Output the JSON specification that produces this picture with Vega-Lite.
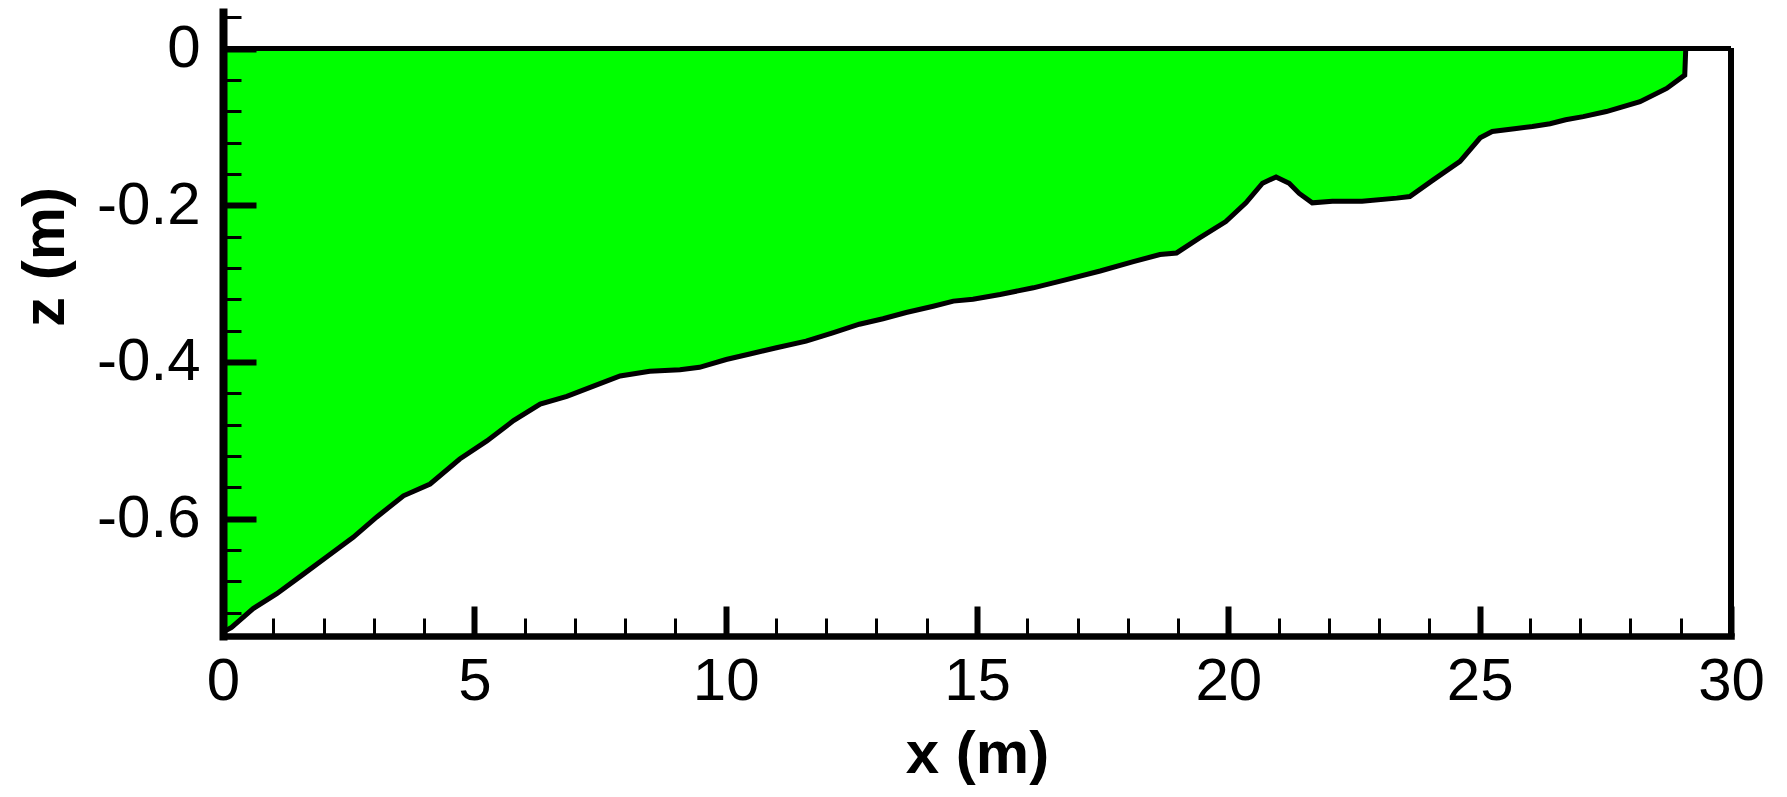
{
  "$schema": "https://vega.github.io/schema/vega-lite/v6.json",
  "width": 1508,
  "height": 624,
  "autosize": {"type": "none"},
  "padding": {"left": 223, "top": 12, "right": 56, "bottom": 161},
  "background": "white",
  "config": {"view": {"stroke": null}, "font": "Liberation Sans"},
  "datasets": {
    "bed": [
      {"x": 0, "z": -0.745},
      {"x": 0.17, "z": -0.739},
      {"x": 0.6, "z": -0.715},
      {"x": 1.07, "z": -0.696},
      {"x": 1.6, "z": -0.671},
      {"x": 2.06, "z": -0.649},
      {"x": 2.59, "z": -0.624},
      {"x": 3.06, "z": -0.598},
      {"x": 3.59, "z": -0.571},
      {"x": 4.12, "z": -0.556},
      {"x": 4.71, "z": -0.524},
      {"x": 5.25, "z": -0.501},
      {"x": 5.78, "z": -0.475},
      {"x": 6.31, "z": -0.454},
      {"x": 6.84, "z": -0.444},
      {"x": 7.37, "z": -0.431},
      {"x": 7.9, "z": -0.418},
      {"x": 8.49, "z": -0.412},
      {"x": 9.09, "z": -0.41},
      {"x": 9.48, "z": -0.407},
      {"x": 10.01, "z": -0.397},
      {"x": 10.48, "z": -0.39},
      {"x": 11.01, "z": -0.382},
      {"x": 11.6, "z": -0.3735},
      {"x": 12.13, "z": -0.363},
      {"x": 12.66, "z": -0.352},
      {"x": 13.13, "z": -0.345},
      {"x": 13.59, "z": -0.337},
      {"x": 14.13, "z": -0.329},
      {"x": 14.53, "z": -0.3225},
      {"x": 14.92, "z": -0.32},
      {"x": 15.46, "z": -0.314},
      {"x": 16.12, "z": -0.3055},
      {"x": 16.78, "z": -0.295},
      {"x": 17.45, "z": -0.284},
      {"x": 18.11, "z": -0.272},
      {"x": 18.64, "z": -0.263},
      {"x": 18.97, "z": -0.261},
      {"x": 19.42, "z": -0.242},
      {"x": 19.95, "z": -0.221},
      {"x": 20.35, "z": -0.197},
      {"x": 20.68, "z": -0.172},
      {"x": 20.95, "z": -0.164},
      {"x": 21.21, "z": -0.172},
      {"x": 21.41, "z": -0.185},
      {"x": 21.67, "z": -0.197},
      {"x": 22.07, "z": -0.195},
      {"x": 22.66, "z": -0.195},
      {"x": 23.35, "z": -0.191},
      {"x": 23.61, "z": -0.189},
      {"x": 24.07, "z": -0.168},
      {"x": 24.61, "z": -0.144},
      {"x": 25.01, "z": -0.114},
      {"x": 25.25, "z": -0.106},
      {"x": 25.73, "z": -0.102},
      {"x": 26.05, "z": -0.0996},
      {"x": 26.4, "z": -0.096},
      {"x": 26.71, "z": -0.091},
      {"x": 27.06, "z": -0.087},
      {"x": 27.52, "z": -0.0805},
      {"x": 28.19, "z": -0.068},
      {"x": 28.72, "z": -0.051},
      {"x": 29.08, "z": -0.034},
      {"x": 29.1, "z": 0}
    ]
  },
  "data": {"name": "bed"},
  "resolve": {"axis": {"x": "independent", "y": "independent"}},
  "layer": [
    {
      "mark": {"type": "area", "color": "#00ff00", "opacity": 1},
      "encoding": {
        "x": {
          "field": "x",
          "type": "quantitative",
          "scale": {"domain": [0, 30], "nice": false, "zero": false},
          "axis": {
            "orient": "bottom",
            "zindex": 2,
            "values": [0, 5, 10, 15, 20, 25, 30],
            "labelExpr": "'' + datum.value",
            "tickSize": -30,
            "tickWidth": 6,
            "tickColor": "black",
            "domainColor": "black",
            "domainWidth": 6.5,
            "domainCap": "square",
            "grid": false,
            "labelFont": "Liberation Sans",
            "labelFontSize": 60,
            "labelColor": "black",
            "labelBaseline": "alphabetic",
            "labelPadding": 93,
            "labelFlush": false,
            "labelOverlap": false,
            "labelBound": false,
            "title": "x (m)",
            "titleFont": "Liberation Sans",
            "titleFontSize": 60,
            "titleFontWeight": "bold",
            "titleColor": "black",
            "titleX": 754,
            "titleY": 136,
            "titleAlign": "center",
            "titleBaseline": "alphabetic"
          }
        },
        "y": {
          "field": "z",
          "type": "quantitative",
          "scale": {"domain": [-0.75, 0.0466], "nice": false, "zero": false},
          "axis": {
            "orient": "left",
            "zindex": 2,
            "values": [0, -0.2, -0.4, -0.6],
            "labelExpr": "'' + datum.value",
            "tickSize": -33,
            "tickWidth": 6,
            "tickColor": "black",
            "domainColor": "black",
            "domainWidth": 8,
            "domainCap": "square",
            "grid": false,
            "labelFont": "Liberation Sans",
            "labelFontSize": 60,
            "labelColor": "black",
            "labelAlign": "right",
            "labelBaseline": "middle",
            "labelPadding": 56,
            "labelFlush": false,
            "labelOverlap": false,
            "labelBound": false,
            "title": "z (m)",
            "titleFont": "Liberation Sans",
            "titleFontSize": 60,
            "titleFontWeight": "bold",
            "titleColor": "black",
            "titleAngle": 270,
            "titleX": -160,
            "titleY": 244.5,
            "titleAlign": "center",
            "titleBaseline": "alphabetic"
          }
        },
        "y2": {"datum": 0}
      }
    },
    {
      "mark": {"type": "line", "color": "black", "strokeWidth": 5},
      "encoding": {
        "x": {
          "field": "x",
          "type": "quantitative",
          "axis": {
            "orient": "bottom",
            "zindex": 2,
            "values": [1,2,3,4,6,7,8,9,11,12,13,14,16,17,18,19,21,22,23,24,26,27,28,29],
            "labels": false,
            "domain": false,
            "grid": false,
            "tickSize": -18,
            "tickWidth": 3,
            "tickColor": "black",
            "title": null
          }
        },
        "y": {
          "field": "z",
          "type": "quantitative",
          "axis": {
            "orient": "left",
            "zindex": 2,
            "values": [0.04, -0.04, -0.08, -0.12, -0.16, -0.24, -0.28, -0.32, -0.36, -0.44, -0.48, -0.52, -0.56, -0.64, -0.68, -0.72],
            "labels": false,
            "domain": false,
            "grid": false,
            "tickSize": -18,
            "tickWidth": 3,
            "tickColor": "black",
            "title": null
          }
        }
      }
    },
    {
      "mark": {"type": "rule", "color": "black", "strokeWidth": 5},
      "encoding": {
        "x": {"datum": 0, "type": "quantitative", "axis": null},
        "x2": {"datum": 30},
        "y": {"datum": 0, "type": "quantitative", "axis": null}
      }
    },
    {
      "mark": {"type": "rule", "color": "black", "strokeWidth": 5.5},
      "encoding": {
        "x": {"datum": 30, "type": "quantitative", "axis": null},
        "y": {"datum": -0.75, "type": "quantitative", "axis": null},
        "y2": {"datum": 0}
      }
    }
  ]
}
